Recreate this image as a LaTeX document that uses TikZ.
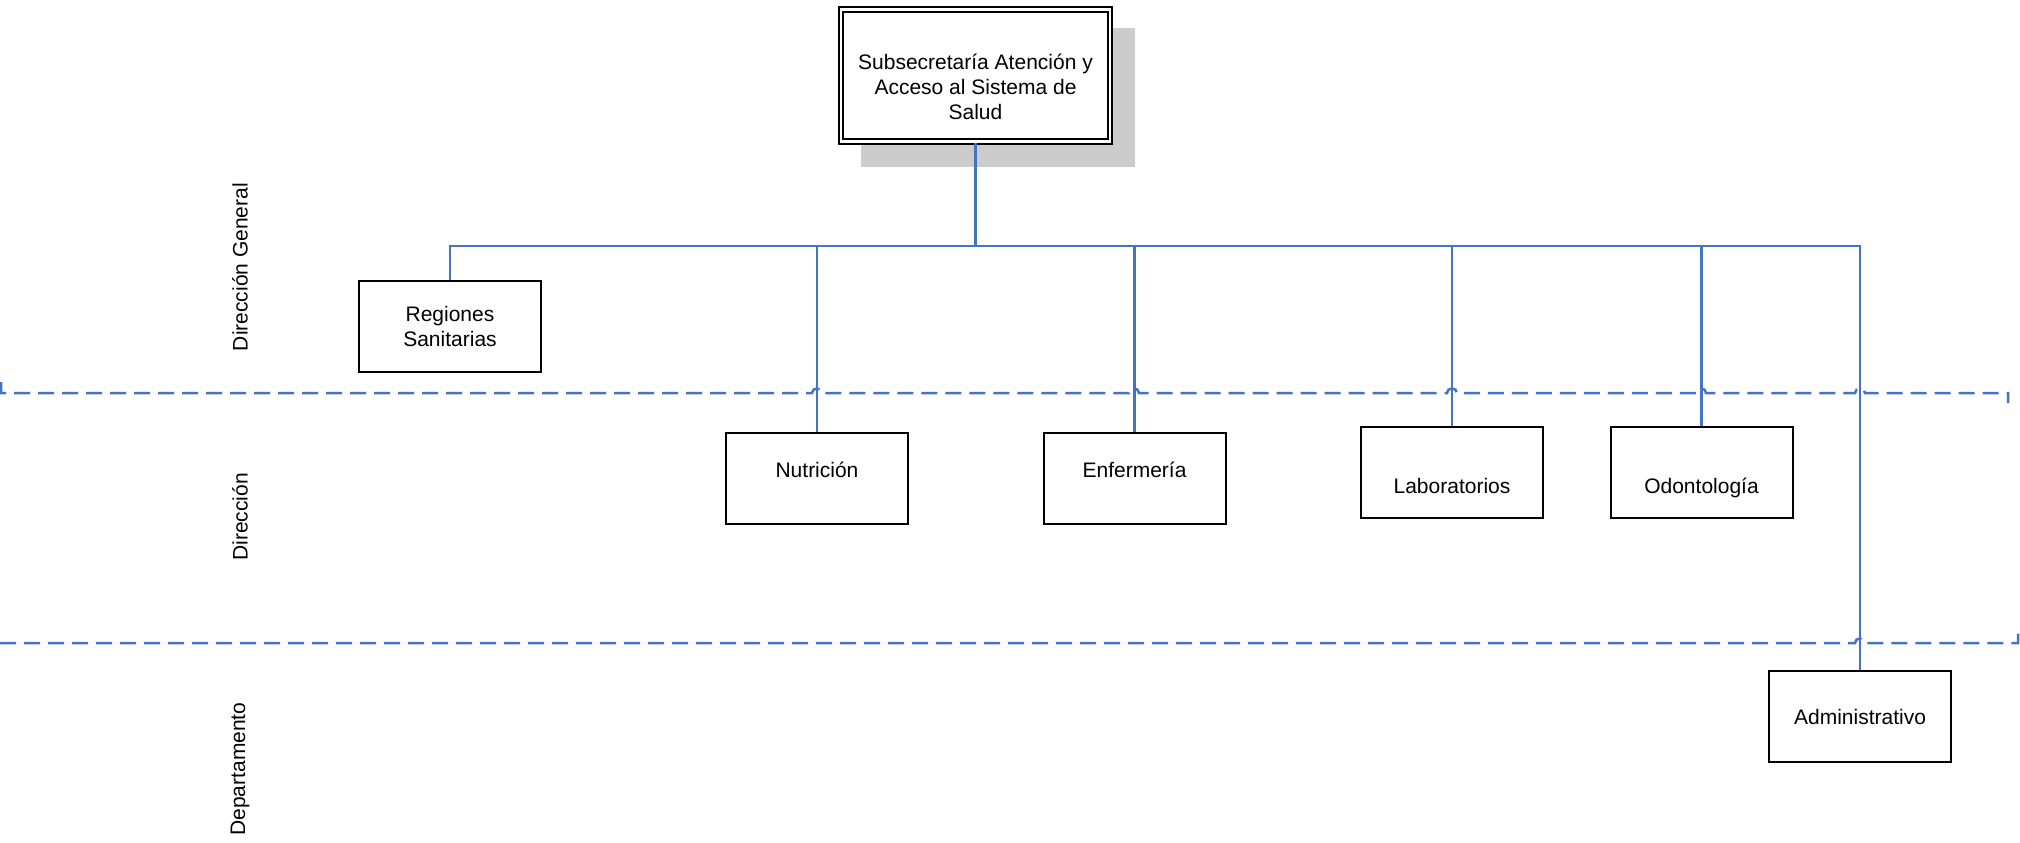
\documentclass[tikz,border=0pt]{standalone}
\usepackage{fontspec}
\setmainfont{Liberation Sans}
\definecolor{lineblue}{RGB}{68,114,196}
\begin{document}
\begin{tikzpicture}[x=0.5pt,y=-0.5pt,
  box/.style={draw=black,line width=1pt,fill=white,minimum width=91pt,minimum height=45.5pt,inner sep=0pt,align=center,font=\fontsize{10.5}{12.5}\selectfont},
  txtup/.style={text height=0pt,text depth=1pt},
  txtdown/.style={text height=20.5pt,text depth=0pt},
  conn/.style={draw=lineblue,line width=1.1pt},
  level/.style={draw=lineblue,line width=1.25pt,dash pattern=on 8pt off 4pt},
  lvl/.style={rotate=90,inner sep=0pt,font=\fontsize{10.5}{12.5}\selectfont}]
\useasboundingbox (0,0) rectangle (2020,842);
% shadow of top box
\fill[black!20] (861,28) rectangle (1135,167);
% level separators
\draw[level] (1,382) -- (1,393) -- (812,393)
  .. controls (812,387) and (822,387) .. (822,393) -- (1129,393)
  .. controls (1129,387) and (1139,387) .. (1139,393) -- (1447,393)
  .. controls (1447,387) and (1457,387) .. (1457,393) -- (1696,393)
  .. controls (1696,387) and (1706,387) .. (1706,393) -- (1855,393)
  .. controls (1855,387) and (1865,387) .. (1865,393) -- (2008,393) -- (2008,403);
\draw[level] (0,643) -- (1855,643)
  .. controls (1855,637) and (1865,637) .. (1865,643) -- (2018,643) -- (2018,633);
% level labels
\node[lvl] (lg) at (240,267) {Dirección General};
\node[lvl] (ld) at (240,517) {Dirección};
\node[lvl] (lp) at (240,769) {Departamento};
% boxes
\node[box,double,double distance=1.2pt,minimum width=134.5pt,minimum height=66pt] (top) at (975.5,75.5) {};
\node[align=center,inner sep=0pt,font=\fontsize{10.5}{12.5}\selectfont] (toptext) at (975.5,87) {Subsecretaría Atención y\\Acceso al Sistema de\\Salud};
\node[box] (reg) at (450,326.5) {Regiones\\Sanitarias};
\node[box,txtup] (nut) at (817,478.5) {Nutrición};
\node[box,txtup] (enf) at (1134.5,478.5) {Enfermería};
\node[box,txtdown] (lab) at (1452,472.5) {Laboratorios};
\node[box,txtdown] (odo) at (1701.5,472.5) {Odontología};
\node[box] (adm) at (1860,716.5) {Administrativo};
% connectors
\coordinate (barY) at (0,246);
\draw[conn] (top.south) -- (top.south |- barY);
\draw[conn] (reg.north) |- (adm.north |- barY) -- (adm.north);
\foreach \n in {nut,enf,lab,odo} \draw[conn] (\n.north) -- (\n.north |- barY);
\end{tikzpicture}
\end{document}
